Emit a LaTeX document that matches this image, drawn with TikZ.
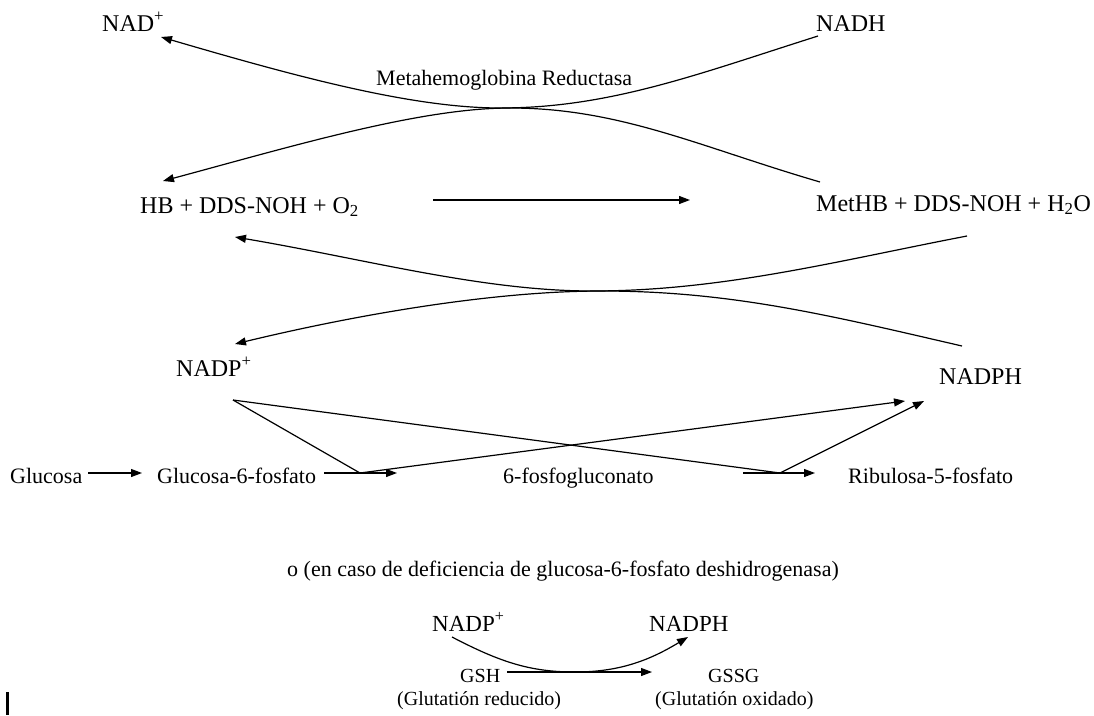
\documentclass[tikz,border=0pt]{standalone}
\usepackage{fontspec}
\setmainfont{Liberation Serif}
\usetikzlibrary{arrows.meta}
\begin{document}
\begin{tikzpicture}[x=1pt,y=-1pt,
  big/.style={anchor=base west, inner sep=0pt, font=\fontsize{24}{28}\selectfont},
  mid/.style={anchor=base west, inner sep=0pt, font=\fontsize{22}{26}\selectfont},
  sml/.style={anchor=base west, inner sep=0pt, font=\fontsize{20}{24}\selectfont},
  ln/.style={line width=1.2pt, line join=miter},
  arr/.style={ln, -{Triangle[length=11pt,width=8pt]}}]
\useasboundingbox (0,0) rectangle (1094,715);

% texts
\node[big] (nad) at (102,31) {NAD\textsuperscript{+}};
\node[big] (nadh) at (816,31) {NADH};
\node[mid] (enz) at (376,85) {Metahemoglobina Reductasa};
\node[big] (hb) at (140,213) {HB + DDS-NOH + O\textsubscript{2}};
\node[big] (methb) at (816,211) {MetHB + DDS-NOH + H\textsubscript{2}O};
\node[big] (nadpL) at (176,376) {NADP\textsuperscript{+}};
\node[big] (nadphR) at (939,384) {NADPH};
\node[mid] (glc) at (10,483) {Glucosa};
\node[mid] (g6p) at (157,483) {Glucosa-6-fosfato};
\node[mid] (pg6) at (503,483) {6-fosfogluconato};
\node[mid] (ru5p) at (848,483) {Ribulosa-5-fosfato};
\node[mid] (note) at (287,576) {o (en caso de deficiencia de glucosa-6-fosfato deshidrogenasa)};
\node[big,font=\fontsize{23}{27}\selectfont] (nadpB) at (432,631) {NADP\textsuperscript{+}};
\node[big,font=\fontsize{23}{27}\selectfont] (nadphB) at (649,631) {NADPH};
\node[sml] (gsh) at (460,682) {GSH};
\node[sml] (gssg) at (708,682) {GSSG};
\node[sml] (gshlab) at (397,705) {(Glutatión reducido)};
\node[sml] (gssglab) at (655,705) {(Glutatión oxidado)};

% connector end points
\coordinate (nadhS) at (818,36);
\coordinate (nadT) at (161,37);
\coordinate (wA) at (500,108);
\coordinate (wB) at (510,108);
\coordinate (methbS) at (820,182);
\coordinate (hbT) at (163,181);
\coordinate (rS) at (433,200);
\coordinate (rT) at (690,200);
\coordinate (wC) at (592,291);
\coordinate (wD) at (602,291);
\coordinate (cS) at (967,236);
\coordinate (cT) at (235,237);
\coordinate (dS) at (962,346);
\coordinate (dT) at (235,344);
\coordinate (np) at (233,400);
\coordinate (v1) at (360,473);
\coordinate (v2) at (780,473);
\coordinate (t1) at (905,401);
\coordinate (t2) at (924,401);
\coordinate (glcS) at (88,473);
\coordinate (glcT) at (142,473);
\coordinate (g6pS) at (324,473);
\coordinate (g6pT) at (397,473);
\coordinate (pgS) at (743,473);
\coordinate (pgT) at (815,473);
\coordinate (bS) at (452,637);
\coordinate (bM) at (575,672);
\coordinate (bT) at (688,637);
\coordinate (gS) at (507,672);
\coordinate (gT) at (652,672);

% top crossing (methemoglobin reductase)
\draw[arr] (nadhS) .. controls (698,74) and (610,108) .. (wA)
                   .. controls (410,108) and (291,75) .. (nadT);
\draw[arr] (methbS) .. controls (700,147) and (620,108) .. (wB)
                    .. controls (420,108) and (293,146) .. (hbT);
% main reaction
\draw[arr] (rS) -- (rT);
% middle crossing
\draw[arr] (cS) .. controls (837,261) and (722,291) .. (wC)
                .. controls (482,291) and (365,259) .. (cT);
\draw[arr] (dS) .. controls (832,316) and (732,291) .. (wD)
                .. controls (492,291) and (355,315) .. (dT);
% pentose phosphate pathway
\draw[arr] (glcS) -- (glcT);
\draw[arr] (g6pS) -- (g6pT);
\draw[arr] (pgS) -- (pgT);
\draw[arr] (np) -- (v1) -- (t1);
\draw[arr] (np) -- (v2) -- (t2);
% glutathione
\draw[arr] (bS) .. controls (500,662) and (530,672) .. (bM)
                .. controls (620,672) and (650,660) .. (bT);
\draw[arr] (gS) -- (gT);
% stray bar
\fill (6,692) rectangle (8.7,715);
\end{tikzpicture}
\end{document}
